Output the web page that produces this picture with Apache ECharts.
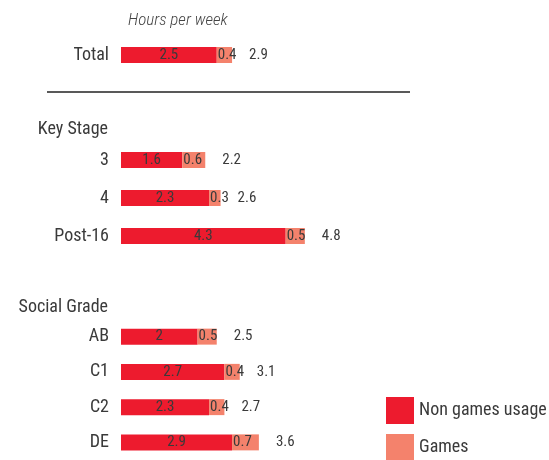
<!DOCTYPE html>
<html>
<head>
<meta charset="utf-8">
<script src="https://cdn.jsdelivr.net/npm/echarts@6/dist/echarts.min.js"></script>
<style>html,body{margin:0;padding:0;background:#fff;}#c{width:549px;height:460px;}</style>
</head>
<body>
<div id="c"></div>
<script>
// Data
var totalCats = ['Total'];
var keyStageCats = ['3', '4', 'Post-16'];
var socialCats = ['AB', 'C1', 'C2', 'DE'];

var totalNonGames = [2.5];
var totalGames = [0.4];
var totalSum = [2.9];

var ksNonGames = [1.6, 2.3, 4.3];
var ksGames = [0.6, 0.3, 0.5];
var ksSum = [2.2, 2.6, 4.8];

var sgNonGames = [2, 2.7, 2.3, 2.9];
var sgGames = [0.5, 0.4, 0.4, 0.7];
var sgSum = [2.5, 3.1, 2.7, 3.6];

var headers = ['Key Stage', 'Social Grade'];
var unitLabel = 'Hours per week';
var legendNames = ['Non games usage', 'Games'];

var RED = '#ED1B2E';
var SALMON = '#F4826C';
var TXT = '#3a3a3a';
var FONT = '"Roboto Condensed", "Liberation Sans", sans-serif';
var FW = 'normal';
var LBL = 18;
var VAL = 15;

var groups = [
  {cats: totalCats, ng: totalNonGames, g: totalGames, s: totalSum, top: 36, height: 38},
  {cats: keyStageCats, ng: ksNonGames, g: ksGames, s: ksSum, top: 141, height: 114},
  {cats: socialCats, ng: sgNonGames, g: sgGames, s: sgSum, top: 319, height: 150.5}
];

var grids = [], xAxes = [], yAxes = [], series = [];
groups.forEach(function (gr, i) {
  grids.push({left: 121, width: 383, top: gr.top, height: gr.height});
  xAxes.push({gridIndex: i, type: 'value', min: 0, max: 10, show: false});
  yAxes.push({
    gridIndex: i, type: 'category', data: gr.cats, inverse: true,
    axisLine: {show: false}, axisTick: {show: false}, splitLine: {show: false},
    axisLabel: {color: TXT, fontSize: LBL, fontWeight: FW, fontFamily: FONT, margin: 12}
  });
  series.push({
    name: legendNames[0], type: 'bar', stack: 's' + i, xAxisIndex: i, yAxisIndex: i,
    data: gr.ng, barWidth: 16, itemStyle: {color: RED},
    label: {show: true, position: 'inside', color: TXT, fontSize: VAL, fontWeight: FW, fontFamily: FONT},
    silent: true
  });
  series.push({
    name: legendNames[1], type: 'bar', stack: 's' + i, xAxisIndex: i, yAxisIndex: i,
    data: gr.g, barWidth: 16, itemStyle: {color: SALMON},
    label: {show: true, position: 'insideLeft', distance: 1, color: TXT, fontSize: VAL, fontWeight: FW, fontFamily: FONT},
    silent: true
  });
  series.push({
    name: 'Total', type: 'bar', xAxisIndex: i, yAxisIndex: i,
    data: gr.s, barWidth: 16, barGap: '-100%', z: 1,
    itemStyle: {color: 'rgba(0,0,0,0)'},
    label: {show: true, position: 'right', distance: 17, color: TXT, fontSize: VAL, fontWeight: FW, fontFamily: FONT},
    silent: true
  });
});

function legendFor(name, top) {
  return {
    data: [name], orient: 'vertical', left: 386, top: top, padding: 0,
    itemWidth: 28, itemHeight: 27, itemGap: 10, icon: 'rect',
    textStyle: {color: TXT, fontSize: LBL, fontWeight: FW, fontFamily: FONT},
    selectedMode: false
  };
}

var chart = echarts.init(document.getElementById('c'), null, {renderer: 'canvas'});
chart.setOption({
  animation: false,
  backgroundColor: '#fff',
  grid: grids,
  xAxis: xAxes,
  yAxis: yAxes,
  series: series,
  legend: [legendFor(legendNames[0], 397), legendFor(legendNames[1], 434)],
  graphic: [
    {type: 'text', left: 128, top: 12, style: {text: unitLabel, fill: '#444', fontSize: 17, fontWeight: 300, fontStyle: 'italic', fontFamily: FONT}},
    {type: 'line', shape: {x1: 47, y1: 92, x2: 410, y2: 92}, style: {stroke: '#222', lineWidth: 1.3}},
    {type: 'text', x: 108, y: 129, style: {text: headers[0], fill: TXT, fontSize: LBL, fontWeight: FW, fontFamily: FONT, textAlign: 'right', textVerticalAlign: 'middle'}},
    {type: 'text', x: 108, y: 307, style: {text: headers[1], fill: TXT, fontSize: LBL, fontWeight: FW, fontFamily: FONT, textAlign: 'right', textVerticalAlign: 'middle'}}
  ]
});
</script>
</body>
</html>
